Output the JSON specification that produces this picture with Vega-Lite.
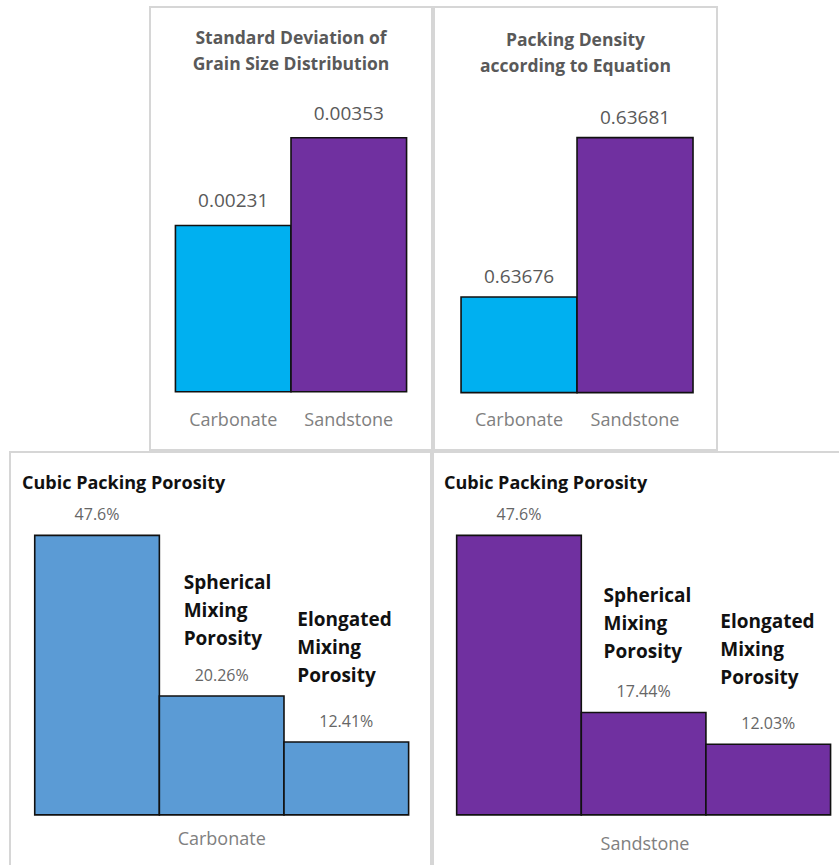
{
  "$schema": "https://vega.github.io/schema/vega-lite/v6.json",
  "padding": {"left": 9, "top": 6, "right": 0, "bottom": 0},
  "background": "white",
  "datasets": {
    "grain": [
      {"rock": "Carbonate", "sd": 0.00231, "density": 0.63676},
      {"rock": "Sandstone", "sd": 0.00353, "density": 0.63681}
    ],
    "porosity": [
      {"rock": "Carbonate", "kind": "Cubic Packing Porosity", "porosity": 0.476},
      {"rock": "Carbonate", "kind": "Spherical Mixing Porosity", "porosity": 0.2026},
      {"rock": "Carbonate", "kind": "Elongated Mixing Porosity", "porosity": 0.1241},
      {"rock": "Sandstone", "kind": "Cubic Packing Porosity", "porosity": 0.476},
      {"rock": "Sandstone", "kind": "Spherical Mixing Porosity", "porosity": 0.1744},
      {"rock": "Sandstone", "kind": "Elongated Mixing Porosity", "porosity": 0.1203}
    ]
  },
  "spacing": 0,
  "vconcat": [
    {
      "spacing": 0,
      "hconcat": [
        {
          "width": 139,
          "height": 443,
          "view": {"stroke": null},
          "data": {"values": []},
          "mark": {"type": "text"},
          "encoding": {}
        },
        {
          "width": 282,
          "height": 443,
          "title": {
            "text": ["Standard Deviation of", "Grain Size Distribution"],
            "orient": "top",
            "anchor": "middle",
            "offset": -66,
            "lineHeight": 26,
            "fontSize": 17.5,
            "fontWeight": "bold",
            "color": "#595959"
          },
          "data": {"name": "grain"},
          "encoding": {
            "x": {
              "field": "rock",
              "type": "nominal",
              "sort": ["Carbonate", "Sandstone"],
              "scale": {"paddingInner": 0, "paddingOuter": 0.22},
              "axis": {"title": null, "offset": -58, "labelPadding": 28}
            },
            "y": {
              "field": "sd",
              "type": "quantitative",
              "scale": {"domain": [-0.00081, 0.005346], "zero": true, "nice": false},
              "axis": null
            }
          },
          "layer": [
            {
              "mark": {"type": "bar", "stroke": "#111111", "strokeWidth": 1.6},
              "encoding": {
                "color": {
                  "field": "rock",
                  "type": "nominal",
                  "scale": {"domain": ["Carbonate", "Sandstone"], "range": ["#00B0F0", "#7030A0"]},
                  "legend": null
                }
              }
            },
            {
              "mark": {"type": "text", "dy": -24, "fontSize": 19, "color": "#595959"},
              "encoding": {"text": {"field": "sd", "type": "quantitative", "format": ".5f"}}
            }
          ]
        },
        {
          "width": 283,
          "height": 443,
          "title": {
            "text": ["Packing Density", "according to Equation"],
            "orient": "top",
            "anchor": "middle",
            "offset": -68,
            "lineHeight": 26,
            "fontSize": 17.5,
            "fontWeight": "bold",
            "color": "#595959"
          },
          "data": {"name": "grain"},
          "encoding": {
            "x": {
              "field": "rock",
              "type": "nominal",
              "sort": ["Carbonate", "Sandstone"],
              "scale": {"paddingInner": 0, "paddingOuter": 0.22, "align": 0.53},
              "axis": {"title": null, "offset": -57.5, "labelPadding": 28}
            },
            "y": {
              "field": "density",
              "type": "quantitative",
              "scale": {"domain": [0.636712, 0.636851], "zero": false, "nice": false},
              "axis": null
            }
          },
          "layer": [
            {
              "mark": {"type": "bar", "stroke": "#111111", "strokeWidth": 1.6},
              "encoding": {
                "y2": {"datum": 0.63673},
                "color": {
                  "field": "rock",
                  "type": "nominal",
                  "scale": {"domain": ["Carbonate", "Sandstone"], "range": ["#00B0F0", "#7030A0"]},
                  "legend": null
                }
              }
            },
            {
              "mark": {"type": "text", "dy": -20, "fontSize": 19, "color": "#595959"},
              "encoding": {"text": {"field": "density", "type": "quantitative", "format": ".5f"}}
            }
          ]
        }
      ]
    },
    {
      "spacing": 0,
      "hconcat": [
        {
          "width": 421,
          "height": 414,
          "data": {"name": "porosity"},
          "transform": [{"filter": "datum.rock == 'Carbonate'"}],
          "encoding": {
            "x": {
              "field": "rock",
              "type": "nominal",
              "scale": {"paddingInner": 0, "paddingOuter": 0.063, "align": 0.525},
              "axis": {"title": null, "offset": -51.3, "labelPadding": 25}
            },
            "xOffset": {
              "field": "kind",
              "type": "nominal",
              "sort": ["Cubic Packing Porosity", "Spherical Mixing Porosity", "Elongated Mixing Porosity"],
              "scale": {"paddingInner": 0, "paddingOuter": 0}
            },
            "y": {
              "field": "porosity",
              "type": "quantitative",
              "scale": {"domain": [-0.087, 0.618], "zero": true, "nice": false},
              "axis": null
            }
          },
          "layer": [
            {"mark": {"type": "bar", "color": "#5B9BD5", "stroke": "#111111", "strokeWidth": 1.6}},
            {
              "mark": {"type": "text", "dy": -20, "fontSize": 16, "color": "#666666"},
              "encoding": {"text": {"field": "porosity", "type": "quantitative", "format": ".2~%"}}
            },
            {
              "transform": [{"filter": "datum.kind == 'Cubic Packing Porosity'"}],
              "mark": {"type": "text", "align": "left", "dx": -75, "dy": -51, "fontSize": 18, "fontWeight": "bold", "color": "#111111"},
              "encoding": {"text": {"field": "kind"}}
            },
            {
              "transform": [{"filter": "datum.kind == 'Spherical Mixing Porosity'"}],
              "mark": {"type": "text", "align": "left", "lineBreak": " ", "lineHeight": 28, "dx": -38, "dy": -113, "fontSize": 19, "fontWeight": "bold", "color": "#111111"},
              "encoding": {"text": {"field": "kind"}}
            },
            {
              "transform": [{"filter": "datum.kind == 'Elongated Mixing Porosity'"}],
              "mark": {"type": "text", "align": "left", "lineBreak": " ", "lineHeight": 28, "dx": -49, "dy": -122, "fontSize": 19, "fontWeight": "bold", "color": "#111111"},
              "encoding": {"text": {"field": "kind"}}
            }
          ]
        },
        {
          "width": 408,
          "height": 414,
          "data": {"name": "porosity"},
          "transform": [{"filter": "datum.rock == 'Sandstone'"}],
          "encoding": {
            "x": {
              "field": "rock",
              "type": "nominal",
              "scale": {"paddingInner": 0, "paddingOuter": 0.0415, "align": 0.757},
              "axis": {"title": null, "offset": -50.7, "labelPadding": 29}
            },
            "xOffset": {
              "field": "kind",
              "type": "nominal",
              "sort": ["Cubic Packing Porosity", "Spherical Mixing Porosity", "Elongated Mixing Porosity"],
              "scale": {"paddingInner": 0, "paddingOuter": 0}
            },
            "y": {
              "field": "porosity",
              "type": "quantitative",
              "scale": {"domain": [-0.087, 0.618], "zero": true, "nice": false},
              "axis": null
            }
          },
          "layer": [
            {"mark": {"type": "bar", "color": "#7030A0", "stroke": "#111111", "strokeWidth": 1.6}},
            {
              "mark": {"type": "text", "dy": -20, "fontSize": 16, "color": "#666666"},
              "encoding": {"text": {"field": "porosity", "type": "quantitative", "format": ".2~%"}}
            },
            {
              "transform": [{"filter": "datum.kind == 'Cubic Packing Porosity'"}],
              "mark": {"type": "text", "align": "left", "dx": -75, "dy": -51, "fontSize": 18, "fontWeight": "bold", "color": "#111111"},
              "encoding": {"text": {"field": "kind"}}
            },
            {
              "transform": [{"filter": "datum.kind == 'Spherical Mixing Porosity'"}],
              "mark": {"type": "text", "align": "left", "lineBreak": " ", "lineHeight": 28, "dx": -40, "dy": -116, "fontSize": 19, "fontWeight": "bold", "color": "#111111"},
              "encoding": {"text": {"field": "kind"}}
            },
            {
              "transform": [{"filter": "datum.kind == 'Elongated Mixing Porosity'"}],
              "mark": {"type": "text", "align": "left", "lineBreak": " ", "lineHeight": 28, "dx": -48, "dy": -122, "fontSize": 19, "fontWeight": "bold", "color": "#111111"},
              "encoding": {"text": {"field": "kind"}}
            }
          ]
        }
      ]
    }
  ],
  "config": {
    "font": "Open Sans",
    "view": {"stroke": "#d6d6d6", "strokeWidth": 2},
    "axis": {
      "domain": false,
      "ticks": false,
      "tickSize": 0,
      "grid": false,
      "labelAngle": 0,
      "labelBaseline": "middle",
      "labelFontSize": 18,
      "labelColor": "#808080",
      "labelFont": "Open Sans"
    }
  }
}
